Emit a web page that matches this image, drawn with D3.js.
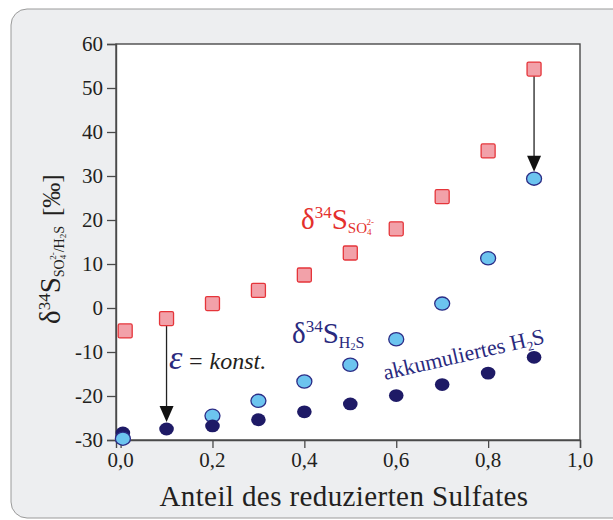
<!DOCTYPE html>
<html><head><meta charset="utf-8">
<script src="https://cdn.jsdelivr.net/npm/d3@7"></script>
<style>
body{margin:0;background:#fff;}
svg text{font-family:"Liberation Serif",serif;}
</style></head>
<body><svg id="c" width="613" height="520"></svg>
<script>
// ---- data ----
const fractionSO4 = [0.01, 0.1, 0.2, 0.3, 0.4, 0.5, 0.6, 0.7, 0.8, 0.9];
const d34S_SO4   = [-5.2, -2.4, 1.0, 4.0, 7.5, 12.5, 18.0, 25.3, 35.7, 54.3];
const fractionH2S = [0.005, 0.2, 0.3, 0.4, 0.5, 0.6, 0.7, 0.8, 0.9];
const d34S_H2S    = [-29.7, -24.5, -21.1, -16.7, -12.9, -7.1, 1.0, 11.3, 29.4];
const fractionAcc = [0.005, 0.1, 0.2, 0.3, 0.4, 0.5, 0.6, 0.7, 0.8, 0.9];
const d34S_acc    = [-28.4, -27.5, -26.8, -25.4, -23.6, -21.8, -19.9, -17.4, -14.8, -11.2];
const xTicks = [0, 0.2, 0.4, 0.6, 0.8, 1.0];
const xTickLabels = ["0,0", "0,2", "0,4", "0,6", "0,8", "1,0"];
const yTicks = [60, 50, 40, 30, 20, 10, 0, -10, -20, -30];
const yTickLabels = ["60", "50", "40", "30", "20", "10", "0", "-10", "-20", "-30"];
const arrowX = [0.1, 0.9];

const svg = d3.select("#c");
svg.append("rect").attr("x",11).attr("y",9).attr("width",620).attr("height",509)
  .attr("rx",16).attr("fill","#edeef0").attr("stroke","#9a9a9a").attr("stroke-width",1);

const x = d3.scaleLinear().domain([-0.01, 1.0]).range([116, 580]);
const y = d3.scaleLinear().domain([-30, 60]).range([440, 44]);

svg.append("rect").attr("x",x(-0.01)).attr("y",y(60)).attr("width",x(1)-x(-0.01))
  .attr("height",y(-30)-y(60)).attr("fill","#fff").attr("stroke","#4a4a4a").attr("stroke-width",1.4);

const gx = svg.append("g").attr("transform",`translate(0,${y(-30)})`)
  .call(d3.axisBottom(x).tickValues(xTicks).tickFormat("").tickSize(8));
const gy = svg.append("g").attr("transform",`translate(${x(-0.01)},0)`)
  .call(d3.axisLeft(y).tickValues(yTicks).tickFormat("").tickSize(9));
for (const g of [gx, gy]) {
  g.select(".domain").attr("stroke","#4a4a4a").attr("stroke-width",1.4);
  g.selectAll("line").attr("stroke","#4a4a4a").attr("stroke-width",1.3);
}
svg.append("g").selectAll("text").data(xTicks).enter().append("text")
  .attr("x",d=>x(d)).attr("y",y(-30)+27).attr("text-anchor","middle")
  .attr("fill","#231f20").style("font-size","21px").text((d,i)=>xTickLabels[i]);
svg.append("g").selectAll("text").data(yTicks).enter().append("text")
  .attr("x",x(-0.01)-13).attr("y",d=>y(d)+7).attr("text-anchor","end")
  .attr("fill","#231f20").style("font-size","21px").text((d,i)=>yTickLabels[i]);

// arrows
const arrowFrom = [d34S_SO4[1], d34S_SO4[9]];
const arrowTo = [d34S_acc[1], d34S_H2S[8]];
arrowX.forEach((ax,i)=>{
  svg.append("path")
    .attr("d",`M${x(ax)},${y(arrowFrom[i])+7} L${x(ax)},${y(arrowTo[i])-10}`)
    .attr("stroke","#222").attr("stroke-width",1.3).attr("fill","none");
  svg.append("path")
    .attr("d",`M${x(ax)-7},${y(arrowTo[i])-23} L${x(ax)+7},${y(arrowTo[i])-23} L${x(ax)},${y(arrowTo[i])-7} Z`)
    .attr("fill","#111");
});

// light circles (except first), dark circles, then first light on top
const lightStyle = s => s.attr("rx",7.5).attr("ry",6.6).attr("fill","#6cc4ef").attr("stroke","#2b2c86").attr("stroke-width",1.3);
svg.append("g").selectAll("ellipse").data(fractionH2S.slice(1)).enter().append("ellipse")
  .attr("cx",d=>x(d)).attr("cy",(d,i)=>y(d34S_H2S[i+1])).call(lightStyle);
svg.append("g").selectAll("ellipse").data(fractionAcc).enter().append("ellipse")
  .attr("cx",d=>x(d)).attr("cy",(d,i)=>y(d34S_acc[i]))
  .attr("rx",7.3).attr("ry",6.4).attr("fill","#1e1a66");
svg.append("ellipse").attr("cx",x(fractionH2S[0])).attr("cy",y(d34S_H2S[0])).call(lightStyle);

// red squares
svg.append("g").selectAll("rect").data(fractionSO4).enter().append("rect")
  .attr("x",d=>x(d)-7).attr("y",(d,i)=>y(d34S_SO4[i])-7).attr("width",14).attr("height",14)
  .attr("rx",1.5).attr("fill","#f2a1a9").attr("stroke","#e5353a").attr("stroke-width",1.3);

// x axis title
svg.append("text").attr("x",344).attr("y",506).attr("text-anchor","middle")
  .attr("fill","#231f20").style("font-size","29px").style("letter-spacing","0.4px")
  .text("Anteil des reduzierten Sulfates");

// y axis title
const yt = svg.append("text").attr("transform","translate(60,324) rotate(-90)")
  .attr("fill","#231f20").style("font-size","29px");
yt.append("tspan").text("δ");
yt.append("tspan").attr("dy",-10).style("font-size","17px").text("34");
yt.append("tspan").attr("dy",10).text("S");
yt.append("tspan").attr("dy",4).style("font-size","14px").text("SO");
yt.append("tspan").attr("dy",2).style("font-size","9px").text("4");
yt.append("tspan").attr("dx",-5).attr("dy",-10).style("font-size","9px").text("2-");
yt.append("tspan").attr("dy",8).style("font-size","14px").text("/H");
yt.append("tspan").attr("dy",2).style("font-size","9px").text("2");
yt.append("tspan").attr("dy",-2).style("font-size","14px").text("S");
yt.append("tspan").attr("dy",-4).attr("dx",10).style("font-size","25px").text("[‰]");

// SO4 label
const red = "#e4302c";
const t1 = svg.append("text").attr("x",301).attr("y",229).attr("fill",red).style("font-size","29px");
t1.append("tspan").text("δ");
t1.append("tspan").attr("dy",-11).style("font-size","17px").text("34");
t1.append("tspan").attr("dy",11).text("S");
t1.append("tspan").attr("dy",4).style("font-size","15px").text("SO");
t1.append("tspan").attr("dy",2).style("font-size","9px").text("4");
t1.append("tspan").attr("dx",-5).attr("dy",-10).style("font-size","9px").text("2-");

// H2S label
const navy = "#2a2a7e";
const t2 = svg.append("text").attr("x",292).attr("y",343).attr("fill",navy).style("font-size","29px");
t2.append("tspan").text("δ");
t2.append("tspan").attr("dy",-11).style("font-size","17px").text("34");
t2.append("tspan").attr("dy",11).text("S");
t2.append("tspan").attr("dy",5).style("font-size","16px").text("H");
t2.append("tspan").attr("dy",2).style("font-size","10px").text("2");
t2.append("tspan").attr("dy",-2).style("font-size","16px").text("S");

// epsilon label
const t3 = svg.append("text").attr("x",169).attr("y",369).style("font-size","24px").style("font-style","italic");
t3.append("tspan").attr("fill",navy).style("font-size","34px").text("ε");
t3.append("tspan").attr("fill","#231f20").attr("dx",5).text("= konst.");

// accumulated label
const t4 = svg.append("text").attr("transform","translate(385,380) rotate(-13)")
  .attr("fill",navy).style("font-size","22px");
t4.append("tspan").text("akkumuliertes H");
t4.append("tspan").attr("dy",4).style("font-size","13px").text("2");
t4.append("tspan").attr("dy",-4).text("S");
</script></body></html>
